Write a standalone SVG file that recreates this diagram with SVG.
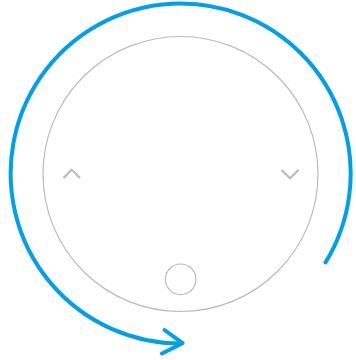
<svg xmlns="http://www.w3.org/2000/svg" width="356" height="360" viewBox="0 0 356 360">
  <style>
    .gray { fill: none; stroke: #bbbbbb; stroke-width: 1.2; }
    .chev { fill: none; stroke: #bbbbbb; stroke-width: 2.2; stroke-linejoin: miter; }
    .blue { fill: none; stroke: #00a0e9; stroke-width: 4; stroke-linecap: round; stroke-linejoin: round; }
  </style>
  <rect width="356" height="360" fill="#ffffff"/>
  <g id="dial">
    <circle class="gray" cx="180.5" cy="174" r="137.5"/>
  </g>
  <g id="button">
    <circle class="gray" cx="180.7" cy="279.3" r="15.3"/>
  </g>
  <g id="chevron-up">
    <polyline class="chev" points="63.5,178 71.7,169.8 80,178"/>
  </g>
  <g id="chevron-down">
    <polyline class="chev" points="281.5,170 290,178.3 298.5,170"/>
  </g>
  <g id="connectors">
    <path class="blue" d="M325.5,262.5 A170,170 0 1 0 181,343.5"/>
    <polyline class="blue" points="164.5,330 182.5,343.2 162,353.5"/>
  </g>
</svg>
